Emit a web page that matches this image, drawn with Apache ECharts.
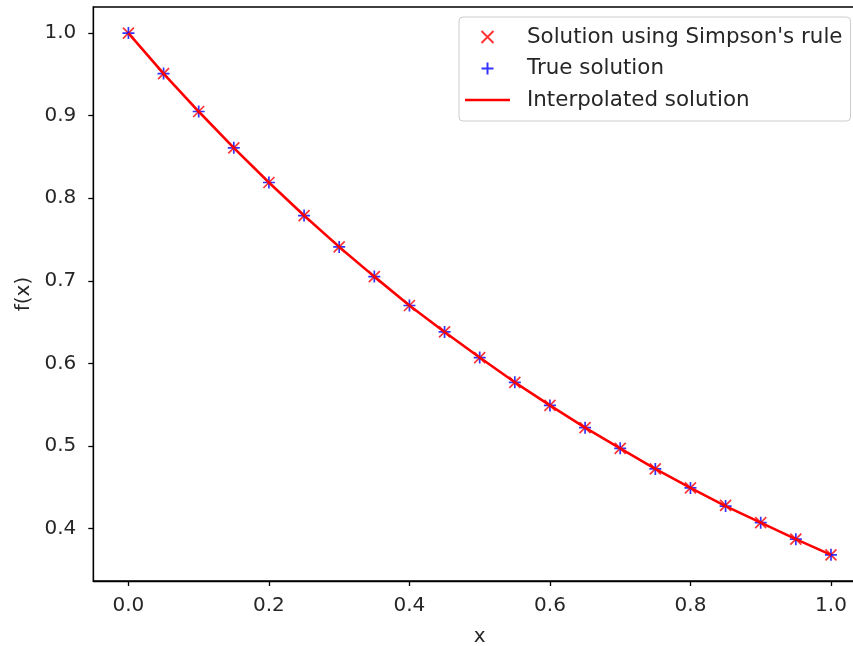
<!DOCTYPE html>
<html>
<head>
<meta charset="utf-8">
<script src="https://cdn.jsdelivr.net/npm/echarts@6/dist/echarts.min.js"></script>
<style>html,body{margin:0;padding:0;background:#fff;overflow:hidden}#c{width:853px;height:646px}</style>
</head>
<body>
<div id="c"></div>
<script>
const xValues = [0.0, 0.05, 0.1, 0.15, 0.2, 0.25, 0.3, 0.35, 0.4, 0.45, 0.5, 0.55, 0.6, 0.65, 0.7, 0.75, 0.8, 0.85, 0.9, 0.95, 1.0];
const simpsonValues = [1.0, 0.951, 0.905, 0.861, 0.819, 0.779, 0.741, 0.705, 0.670, 0.638, 0.607, 0.577, 0.549, 0.522, 0.497, 0.472, 0.449, 0.428, 0.407, 0.387, 0.368];
const trueValues = [1.0, 0.951, 0.905, 0.861, 0.819, 0.779, 0.741, 0.705, 0.670, 0.638, 0.607, 0.577, 0.549, 0.522, 0.497, 0.472, 0.449, 0.427, 0.407, 0.387, 0.368];
const interpValues = [1.0, 0.951, 0.905, 0.861, 0.819, 0.779, 0.741, 0.705, 0.670, 0.638, 0.607, 0.577, 0.549, 0.522, 0.497, 0.472, 0.449, 0.427, 0.407, 0.387, 0.368];
const xTicks = [0.0, 0.2, 0.4, 0.6, 0.8, 1.0];
const yTicks = [0.4, 0.5, 0.6, 0.7, 0.8, 0.9, 1.0];
const seriesNames = ["Solution using Simpson's rule", "True solution", "Interpolated solution"];

const font = 'DejaVu Sans';
const txt = '#262626';
const fs = 20;
const pair = (xs, ys) => xs.map((x, i) => [x, ys[i]]);

const chart = echarts.init(document.getElementById('c'), null, {renderer: 'canvas'});
chart.setOption({
  animation: false,
  backgroundColor: '#ffffff',
  grid: {left: 93.3, top: 7, right: -13.1, bottom: 65, containLabel: false, outerBoundsMode: 'none',
         show: true, borderColor: '#000', borderWidth: 1.3, backgroundColor: 'transparent'},
  legend: {
    orient: 'vertical',
    left: 459, top: 17,
    padding: [9, 8, 10, 6],
    itemWidth: 45, itemHeight: 12, itemGap: 9.5,
    backgroundColor: 'rgba(255,255,255,0.8)',
    borderColor: '#cccccc', borderWidth: 1, borderRadius: 4,
    data: [
      {name: seriesNames[0]},
      {name: seriesNames[1]},
      {name: seriesNames[2], icon: 'path://M0,0H45V2.6H0Z', itemStyle: {color: '#ff0000'}}
    ],
    textStyle: {fontFamily: font, fontSize: 21.4, color: txt, lineHeight: 22, padding: [0, 0, 0, 12]}
  },
  xAxis: {
    type: 'value', min: -0.05, max: 1.05,
    name: 'x', nameLocation: 'middle', nameGap: 46,
    nameTextStyle: {fontFamily: font, fontSize: fs, color: txt},
    axisLine: {show: true, onZero: false, lineStyle: {color: '#000', width: 1.3}},
    axisTick: {show: true, inside: false, length: 5, customValues: xTicks, lineStyle: {color: '#000', width: 1.3}},
    axisLabel: {customValues: xTicks, margin: 15, fontFamily: font, fontSize: fs, color: txt, formatter: v => v.toFixed(1)},
    splitLine: {show: false}
  },
  yAxis: {
    type: 'value', min: 0.3363, max: 1.0316,
    name: 'f(x)', nameLocation: 'middle', nameGap: 60, nameRotate: 90,
    nameTextStyle: {fontFamily: font, fontSize: fs, color: txt},
    axisLine: {show: true, onZero: false, lineStyle: {color: '#000', width: 1.3}},
    axisTick: {show: true, inside: false, length: 5, customValues: yTicks, lineStyle: {color: '#000', width: 1.3}},
    axisLabel: {customValues: yTicks, margin: 17, fontFamily: font, fontSize: fs, color: txt, formatter: v => v.toFixed(1)},
    splitLine: {show: false}
  },
  series: [
    {
      name: seriesNames[0], type: 'scatter', z: 2,
      symbol: 'path://M0,0L10,10M10,0L0,10', symbolSize: 11,
      itemStyle: {color: '#ff0000', borderColor: '#ff0000', borderWidth: 1.7},
      data: pair(xValues, simpsonValues)
    },
    {
      name: seriesNames[1], type: 'scatter', z: 3,
      symbol: 'path://M5,0L5,10M0,5L10,5', symbolSize: 12,
      itemStyle: {color: '#0000ff', borderColor: '#0000ff', borderWidth: 1.7},
      data: pair(xValues, trueValues)
    },
    {
      name: seriesNames[2], type: 'line', z: 4,
      symbol: 'none', showSymbol: false,
      lineStyle: {color: '#ff0000', width: 2.6},
      itemStyle: {color: '#ff0000'},
      data: pair(xValues, interpValues)
    }
  ]
});
</script>
</body>
</html>
